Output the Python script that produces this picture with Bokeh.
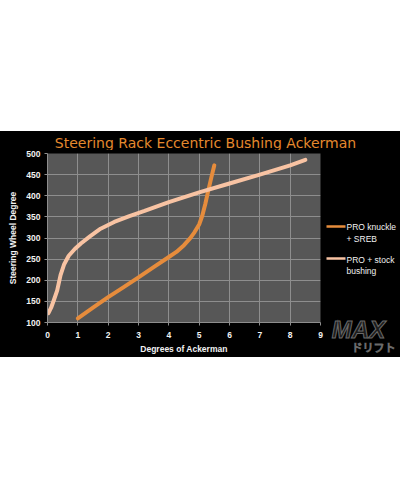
from bokeh.plotting import figure
from bokeh.models import FixedTicker, Label, Range1d, Spacer
from bokeh.layouts import column, row
from bokeh.embed import file_html
from bokeh.resources import INLINE

# ---- data ----
x_ticks = [0, 1, 2, 3, 4, 5, 6, 7, 8, 9]
y_ticks = [100, 150, 200, 250, 300, 350, 400, 450, 500]

sreb_x = [1.0, 1.5, 2.0, 2.5, 3.0, 3.5, 4.0, 4.25, 4.5, 4.7, 4.85, 5.0, 5.1, 5.2, 5.3, 5.4, 5.5]
sreb_y = [110, 135, 160, 183, 207, 231, 255, 267, 283, 299, 314, 332, 352, 380, 412, 443, 472]

stock_x = [0.03, 0.12, 0.22, 0.32, 0.43, 0.55, 0.7, 0.9, 1.1, 1.4, 1.75, 2.2, 2.7, 3.2,
           4.0, 5.0, 6.0, 7.0, 8.0, 8.5]
stock_y = [122, 135, 155, 176, 212, 238, 258, 274, 287, 304, 322, 338, 352, 364,
           385, 408, 429, 450, 472, 485]

legend_line1 = ["PRO knuckle", "PRO + stock"]
legend_line2 = ["+ SREB", "bushing"]
title_text = "Steering Rack Eccentric Bushing Ackerman"
x_label = "Degrees of Ackerman"
y_label = "Steering Wheel Degree"

ORANGE = "#E68C3C"
PEACH = "#F8C3A3"
GRID = "#8E8E8E"
TXT = "#F2F2F2"


def blank(width, height, xr, yr):
    f = figure(width=width, height=height, output_backend="svg", toolbar_location=None,
               x_range=Range1d(*xr), y_range=Range1d(*yr),
               x_axis_type=None, y_axis_type=None, min_border=0)
    f.frame_align = False
    f.border_fill_color = "black"
    f.background_fill_color = "black"
    f.outline_line_color = None
    return f


# ---- title strip (page px coordinates) ----
tfig = blank(400, 19, (0, 400), (150, 131))
tfig.add_layout(Label(x=205, y=142.5, text=title_text, text_font="DejaVu Sans",
                      text_font_size="14px", text_color="#E5892E",
                      text_align="center", text_baseline="middle"))

# ---- main chart ----
p = figure(width=326, height=207, output_backend="svg", toolbar_location=None,
           x_range=Range1d(0, 9), y_range=Range1d(100, 500),
           min_border_left=47, min_border_right=6, min_border_top=3, min_border_bottom=35)
p.frame_align = False
p.border_fill_color = "black"
p.background_fill_color = "#575757"
p.outline_line_color = None

for ax in (p.xaxis[0], p.yaxis[0]):
    ax.axis_line_color = GRID
    ax.major_tick_line_color = GRID
    ax.major_tick_out = 3
    ax.major_tick_in = 0
    ax.minor_tick_line_color = None
    ax.major_label_text_color = TXT
    ax.major_label_text_font = "Liberation Sans"
    ax.major_label_text_font_style = "bold"
    ax.major_label_text_font_size = "8.5px"
    ax.axis_label_text_color = TXT
    ax.axis_label_text_font = "Liberation Sans"
    ax.axis_label_text_font_style = "bold"
    ax.axis_label_text_font_size = "8.5px"

p.xaxis[0].ticker = FixedTicker(ticks=x_ticks)
p.yaxis[0].ticker = FixedTicker(ticks=y_ticks)
p.xaxis[0].major_label_standoff = 6
p.yaxis[0].major_label_standoff = 4
p.xaxis[0].axis_label = x_label
p.yaxis[0].axis_label = y_label
p.xaxis[0].axis_label_standoff = 3
p.yaxis[0].axis_label_standoff = 5

p.xgrid.ticker = FixedTicker(ticks=x_ticks)
p.ygrid.ticker = FixedTicker(ticks=y_ticks)
p.grid.grid_line_color = GRID
p.grid.grid_line_width = 1

p.line(sreb_x, sreb_y, line_color=ORANGE, line_width=4, line_cap="round", line_join="round")
p.line(stock_x, stock_y, line_color=PEACH, line_width=4, line_cap="round", line_join="round")

# ---- side panel: legend + logo (page px coordinates) ----
s = blank(74, 207, (326, 400), (357, 150))
s.segment(x0=[325, 325], y0=[226, 258], x1=[345, 345], y1=[226, 258],
          line_color=[ORANGE, PEACH], line_width=2.5)
for (ty, t) in [(226.5, legend_line1[0]), (238.3, legend_line2[0]),
                (259.3, legend_line1[1]), (270.5, legend_line2[1])]:
    s.add_layout(Label(x=346, y=ty, text=t, text_font="Liberation Sans",
                       text_font_size="8.5px", text_color=TXT,
                       text_baseline="middle", text_align="left"))

s.add_layout(Label(x=358, y=329, text="MAX", text_font="Liberation Sans",
                   text_font_size="24px", text_font_style="bold italic",
                   text_color="#1c1c1c", text_align="center", text_baseline="middle",
                   text_outline_color="#6a6a6a"))
s.add_layout(Label(x=373, y=346, text="ドリフト", text_font="Noto Sans CJK JP",
                   text_font_size="11px", text_color="#1c1c1c",
                   text_align="center", text_baseline="middle",
                   text_outline_color="#6a6a6a"))

band = column(tfig, row(p, s, styles={"background-color": "black"}),
              styles={"background-color": "black"})
layout = column(Spacer(width=400, height=131), band)
open("out.html", "w").write(file_html(layout, INLINE))
